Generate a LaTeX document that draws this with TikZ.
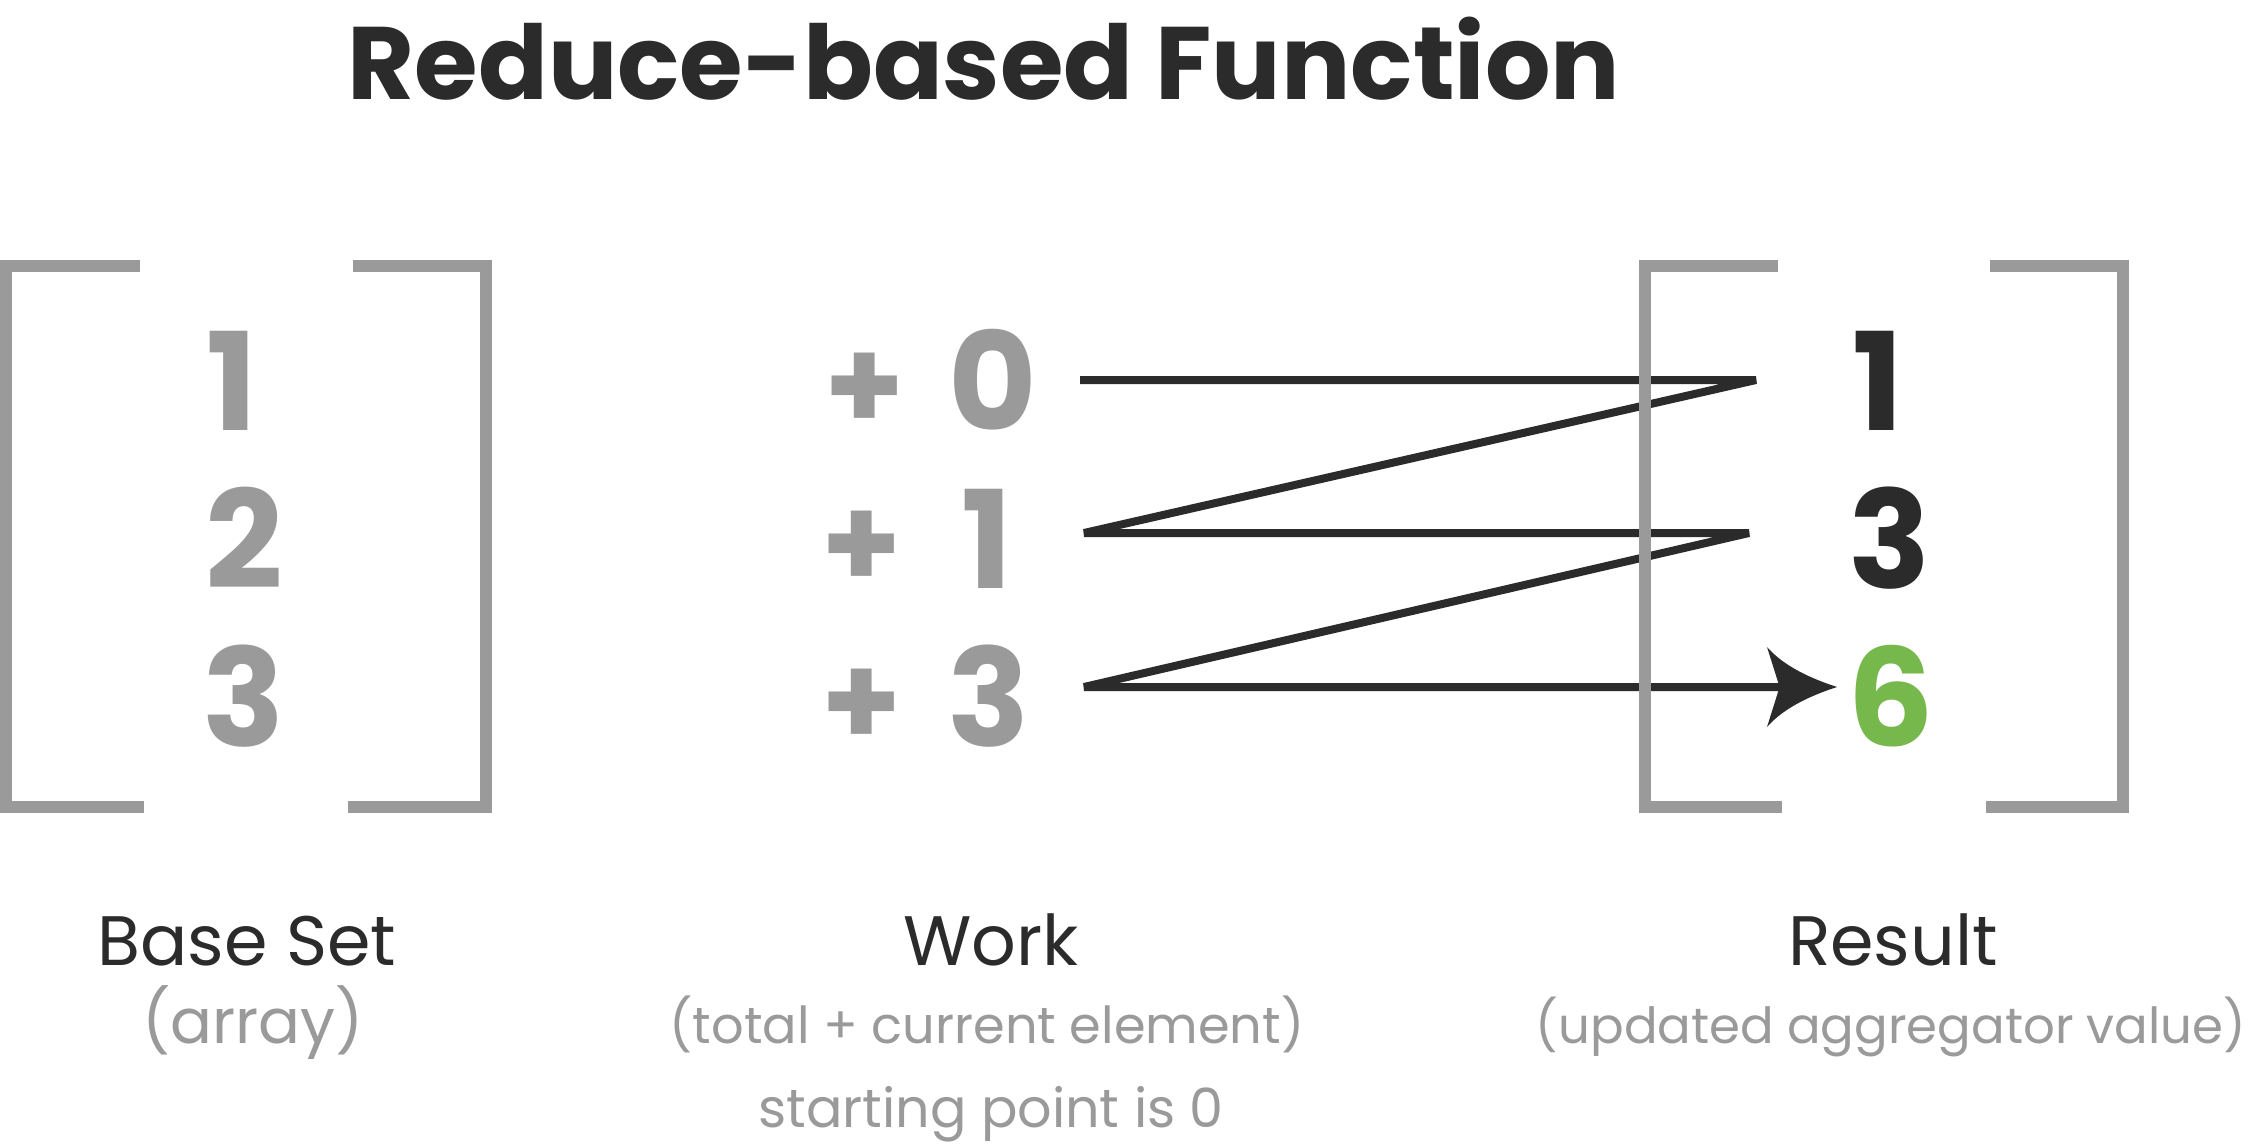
\documentclass[tikz,border=0pt]{standalone}
\usepackage{fontspec}
\setmainfont{Poppins}
\usetikzlibrary{arrows.meta}
\definecolor{ink}{HTML}{2B2B2B}
\definecolor{grey}{HTML}{9A9A9A}
\definecolor{leaf}{HTML}{76B84B}

\pgfdeclarearrow{
  name = Swept,
  parameters = {\the\pgfarrowlength,\the\pgfarrowwidth},
  setup code = {
    \pgfarrowssettipend{0pt}
    \pgfarrowssetlineend{-0.7\pgfarrowlength}
    \pgfarrowssetbackend{-\pgfarrowlength}
    \pgfarrowssavethe\pgfarrowlength
    \pgfarrowssavethe\pgfarrowwidth
  },
  drawing code = {
    \pgfpathmoveto{\pgfpointorigin}
    \pgfpathcurveto{\pgfpoint{-0.35\pgfarrowlength}{0.10\pgfarrowwidth}}{\pgfpoint{-0.75\pgfarrowlength}{0.25\pgfarrowwidth}}{\pgfpoint{-\pgfarrowlength}{0.5\pgfarrowwidth}}
    \pgfpathlineto{\pgfpoint{-0.82\pgfarrowlength}{0pt}}
    \pgfpathlineto{\pgfpoint{-\pgfarrowlength}{-0.5\pgfarrowwidth}}
    \pgfpathcurveto{\pgfpoint{-0.75\pgfarrowlength}{-0.25\pgfarrowwidth}}{\pgfpoint{-0.35\pgfarrowlength}{-0.10\pgfarrowwidth}}{\pgfpointorigin}
    \pgfpathclose
    \pgfusepathqfill
  },
  defaults = {length = 35pt, width = 40pt}
}

\begin{document}
\begin{tikzpicture}[x=0.5pt,y=-0.5pt,
  brk/.style={draw=grey,line width=6pt,line join=miter},
  dig/.style={anchor=base,inner sep=0pt,font=\fontsize{68}{80}\selectfont\bfseries},
  head/.style={anchor=base,inner sep=0pt,text=ink,font=\fontsize{35}{42}\selectfont},
  sub/.style={anchor=base,inner sep=0pt,text=grey,font=\fontsize{27}{32}\selectfont},
  zig/.style={draw=ink,line width=4pt,line join=bevel,-{Swept[length=35pt,width=40pt]}}
]
\useasboundingbox[fill=white] (0,0) rectangle (2250,1145);

% title
\node[anchor=base,inner sep=0pt,text=ink,font=\fontsize{51.5}{60}\selectfont\bfseries] (title) at (984,100) {Reduce-based Function};

% base set digits
\node[dig,text=grey] (b1) at (232,430) {1};
\node[dig,text=grey] (b2) at (244,588) {2};
\node[dig,text=grey] (b3) at (244,746) {3};

% work column
\node[dig,text=grey,font=\fontsize{64}{80}\selectfont\bfseries] (p0) at (865,430) {+};
\node[dig,text=grey,font=\fontsize{64}{80}\selectfont\bfseries] (p1) at (862,588) {+};
\node[dig,text=grey,font=\fontsize{64}{80}\selectfont\bfseries] (p3) at (862,746) {+};
\node[dig,text=grey] (w0) at (993,430) {0};
\node[dig,text=grey] (w1) at (987,588) {1};
\node[dig,text=grey] (w3) at (989,746) {3};

% result digits
\node[dig,text=ink] (r1) at (1878,430) {1};
\node[dig,text=ink] (r3) at (1890,588) {3};
\node[dig,text=leaf] (r6) at (1891,746) {6};

% zigzag connector
\coordinate (c0) at (1080,380);
\coordinate (c1) at (1756,380);
\coordinate (c2) at (1084,533);
\coordinate (c3) at (1749,533);
\coordinate (c4) at (1084,687);
\coordinate (tip) at (1837,687);
\draw[zig] (c0) -- (c1) -- (c2) -- (c3) -- (c4) -- (tip);

% brackets
\draw[brk] (140,266) -- (6,266) -- (6,807) -- (144,807);
\draw[brk] (353,266) -- (486,266) -- (486,807) -- (348,807);
\draw[brk] (1778,266) -- (1645,266) -- (1645,807) -- (1782,807);
\draw[brk] (1990,266) -- (2123,266) -- (2123,807) -- (1986,807);

% labels
\node[head] (lb) at (247,965) {Base Set};
\node[sub,font=\fontsize{31}{36}\selectfont] (lbs) at (253,1043) {(array)};
\node[head] (lw) at (991,965) {Work};
\node[sub,font=\fontsize{25.5}{30}\selectfont] (lws) at (987,1043) {(total + current element)};
\node[sub] (lws2) at (991,1127) {starting point is 0};
\node[head] (lr) at (1893,965) {Result};
\node[sub,font=\fontsize{24.9}{30}\selectfont] (lrs) at (1891,1043) {(updated aggregator value)};
\end{tikzpicture}
\end{document}
